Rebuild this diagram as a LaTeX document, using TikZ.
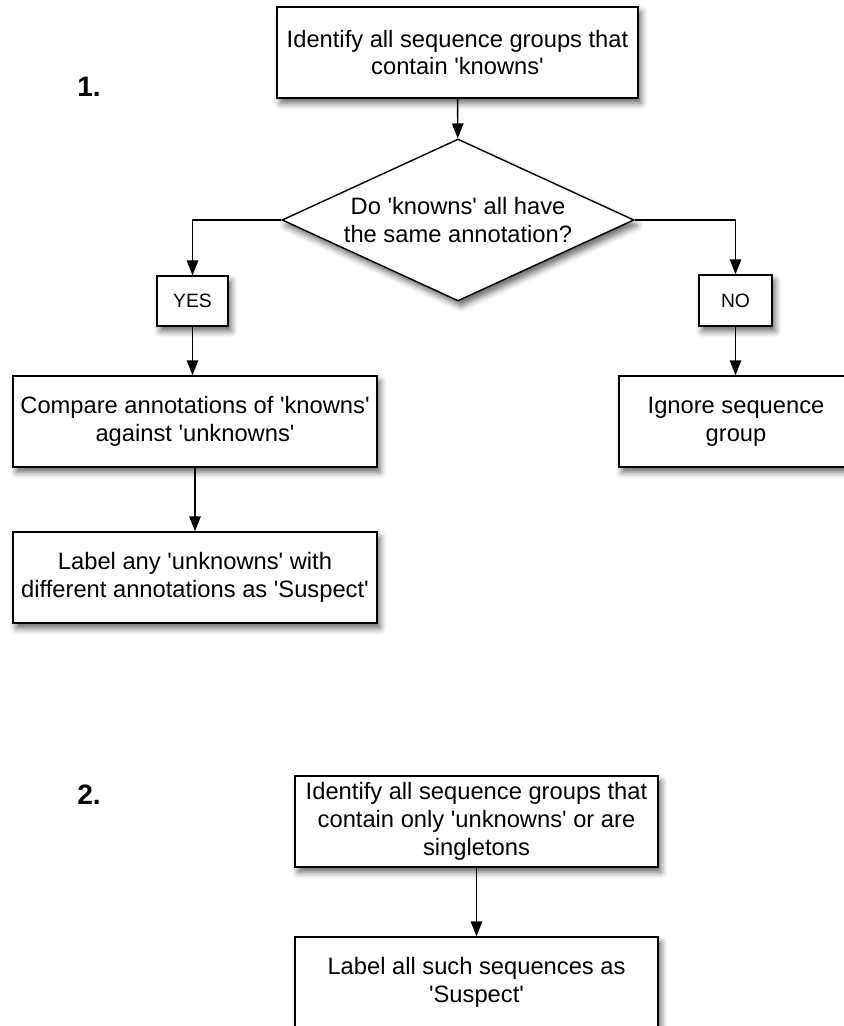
\documentclass[tikz,border=0pt]{standalone}
\usepackage{fontspec}
\setmainfont{Liberation Sans}
\usetikzlibrary{arrows.meta, positioning, shapes.geometric, shadows.blur}
\newcommand{\tq}{\textquotesingle}

\begin{document}
\begin{tikzpicture}[x=0.02cm, y=-0.02cm,
  shade box/.style={blur shadow={shadow xshift=1.8pt, shadow yshift=-3pt, shadow blur radius=3.5pt, shadow opacity=60}},
  box/.style={draw, line width=0.8pt, fill=white, align=center, inner sep=0pt,
    font=\fontsize{13.5}{15.8}\selectfont, shade box},
  answer/.style={box, font=\fontsize{11}{13}\selectfont},
  choice/.style={diamond, draw, line width=0.8pt, fill=white, align=center, inner sep=0pt,
    aspect=2.17, font=\fontsize{13.5}{15.8}\selectfont, shade box},
  num/.style={inner sep=0pt, font=\fontsize{16}{18}\selectfont\bfseries},
  arr/.style={line width=0.8pt, -{Triangle[length=8.5pt, width=6.5pt]}}]
  \useasboundingbox (0,0) rectangle (843,1026);

  % part 1
  \node[num] (one) at (89,87) {1.};
  \node[box, minimum width=7.22cm, minimum height=1.82cm] (top) at (457.5,52.5)
    {Identify all sequence groups that\\contain \tq knowns\tq};
  \node[choice, minimum width=7.04cm, minimum height=3.24cm] (ask) at (458,220)
    {Do \tq knowns\tq{} all have\\the same annotation?};
  \node[answer, minimum width=1.42cm, minimum height=1cm] (yes) at (192.5,301) {YES};
  \node[answer, minimum width=1.46cm, minimum height=1.02cm] (no) at (735.5,300.5) {NO};
  \node[box, minimum width=7.28cm, minimum height=1.82cm] (cmp) at (195,421.5)
    {Compare annotations of \tq knowns\tq\\against \tq unknowns\tq};
  \node[box, minimum width=7.28cm, minimum height=1.82cm] (lab) at (195,577.5)
    {Label any \tq unknowns\tq{} with\\different annotations as \tq Suspect\tq};
  \node[box, minimum width=4.68cm, minimum height=1.82cm] (ign) at (736,421.5)
    {Ignore sequence\\group};

  \draw[arr] (top) -- (ask);
  \draw[arr] (ask.west) -| (yes.north);
  \draw[arr] (ask.east) -| (no.north);
  \draw[arr] (yes) -- (yes |- cmp.north);
  \draw[arr] (no) -- (no |- ign.north);
  \draw[arr] (cmp) -- (lab);

  % part 2
  \node[num] (two) at (89,795) {2.};
  \node[box, minimum width=7.26cm, minimum height=1.82cm] (grpB) at (476.5,821.5)
    {Identify all sequence groups that\\contain only \tq unknowns\tq{} or are\\singletons};
  \node[box, minimum width=7.26cm, minimum height=1.82cm] (labB) at (476.5,982.5)
    {Label all such sequences as\\\tq Suspect\tq};

  \draw[arr] (grpB) -- (labB);
\end{tikzpicture}
\end{document}
